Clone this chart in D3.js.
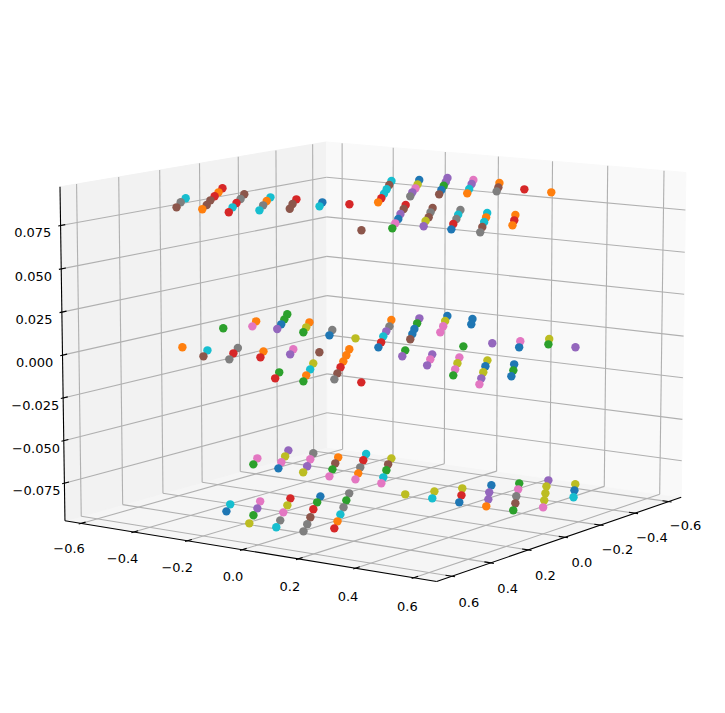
<!DOCTYPE html>
<html><head><meta charset="utf-8"><script src="https://cdn.jsdelivr.net/npm/d3@7"></script>
<style>body{margin:0;background:#fff}text{font-family:"DejaVu Sans";font-size:13px;fill:#000}</style></head>
<body><svg id="chart" width="725" height="713"></svg>
<script>
// Scatter points by series, one list per z level, as [x, y].
const zLevels = {top: 0.085, mid: 0, low: -0.085};
const blueTop = [[.128,-.104],[-.465,-.156],[-.309,.031],[.291,.282],[.377,.523]];
const orangeTop = [[.456,-.304],[.128,-.492],[.200,-.257],[.032,.032],[-.290,.138],[-.549,.087],[-.457,.334],[.115,.470],[.025,.513],[.209,.621]];
const greenTop = [[-.397,-.019],[.457,.375]];
const redTop = [[.207,-.447],[.047,-.538],[.462,-.202],[.288,-.304],[.119,-.206],[.117,-.013],[-.047,-.011],[-.468,.230],[.033,.132],[.284,.468],[.120,.570]];
const purpleTop = [[-.213,-.011],[-.556,-.111],[-.473,-.062],[-.479,.030],[.201,.228],[.372,.425]];
const brownTop = [[.466,-.392],[.374,-.350],[.286,-.403],[.119,-.401],[.296,-.102],[.209,-.155],[.540,.326],[-.313,-.165],[-.222,.081],[-.461,.140],[.108,.176],[.040,.233],[.211,.334],[.287,.569]];
const pinkTop = [[-.295,-.055],[-.562,-.018],[.369,.325]];
const grayTop = [[.372,-.449],[.210,-.347],[.283,-.209],[-.134,.035],[-.380,.186],[.121,.280],[.029,.324],[.194,.419],[.379,.622]];
const oliveTop = [[-.376,-.102],[.279,.369]];
const cyanTop = [[.293,-.491],[.370,-.257],[.376,-.154],[.128,-.296],[.204,-.060],[-.395,-.213],[-.225,-.114],[-.138,-.064],[-.377,.088],[.115,.373],[.037,.423],[.199,.518]];

const blueMid = [[-.140,-.454],[-.063,-.215],[.025,.028],[-.308,-.067],[-.229,-.021],[-.570,-.119],[-.568,-.023],[-.482,.029],[-.220,.373],[.107,.465],[.031,.516],[.199,.614]];
const orangeMid = [[.365,-.453],[-.140,-.551],[-.221,-.404],[.280,-.213],[.528,.123],[.103,-.024],[.192,.028],[.280,.079],[-.405,-.220]];
const greenMid = [[.023,-.557],[-.304,-.550],[-.221,-.501],[-.061,-.312],[.610,.172],[.534,.031],[-.400,-.119],[-.137,.227],[-.315,.417],[.021,.123],[.283,.469],[.115,.567]];
const redMid = [[.359,-.266],[.367,-.160],[.618,.078],[.365,.129],[.527,.316],[-.052,-.015]];
const purpleMid = [[-.063,-.413],[.275,-.118],[-.223,-.114],[-.482,-.166],[-.232,.269],[-.318,.511],[.110,.173],[.031,.227],[.192,.317],[.276,.561]];
const brownMid = [[.451,-.308],[.197,-.067],[.450,.178],[-.147,.027]];
const pinkMid = [[-.058,-.505],[.200,-.161],[-.401,-.022],[-.304,.032],[-.311,.319],[.104,.269],[.027,.321],[.199,.420],[.358,.608]];
const grayMid = [[.278,-.310],[.447,-.215],[-.147,-.264],[.533,.226],[-.304,-.158]];
const oliveMid = [[-.140,-.358],[.358,.026],[-.065,-.119],[-.487,-.072],[-.396,.369],[.113,.371],[.021,.416],[.192,.513]];
const cyanMid = [[.363,-.360],[.443,.076],[-.143,-.070]];

const blueLow = [[-.067,-.414],[.521,-.174],[.191,-.069],[.020,.318],[-.239,.264],[-.323,.509]];
const orangeLow = [[-.313,-.360],[-.149,-.168],[.441,.171],[.020,.414]];
const greenLow = [[-.071,-.514],[-.152,-.268],[-.237,-.123],[.518,-.077],[.265,-.028],[.192,.027],[-.312,.318],[.020,.509]];
const redLow = [[-.321,-.269],[.266,-.126],[.350,.019],[.522,.217],[-.066,.269]];
const purpleLow = [[-.311,-.553],[-.144,-.359],[.435,-.124],[-.150,.314],[-.065,.366],[-.401,.367]];
const brownLow = [[-.232,-.314],[-.315,-.170],[.443,.075],[-.065,.462]];
const pinkLow = [[-.153,-.559],[-.147,-.461],[-.237,-.414],[-.061,-.215],[-.071,-.124],[-.069,-.026],[.352,-.175],[.435,-.029],[-.237,.362],[-.066,.559]];
const grayLow = [[-.319,-.461],[-.227,-.215],[.527,.027],[.524,.122],[.605,.167],[.106,-.023],[.276,.076],[-.150,.411]];
const oliveLow = [[-.229,-.506],[-.063,-.316],[-.397,-.214],[.020,.123],[.611,-.023],[.350,-.076],[-.066,.171],[-.151,.216],[-.323,.409],[-.236,.460],[-.150,.510],[-.399,.465]];
const cyanLow = [[-.407,-.318],[-.145,-.071],[.437,-.223],[.608,.072],[.360,.124],[.020,.221],[-.237,.559]];

const seriesColors = ["#1f77b4","#ff7f0e","#2ca02c","#d62728","#9467bd","#8c564b","#e377c2","#7f7f7f","#bcbd22","#17becf"];
const topSeries = [blueTop,orangeTop,greenTop,redTop,purpleTop,brownTop,pinkTop,grayTop,oliveTop,cyanTop];
const midSeries = [blueMid,orangeMid,greenMid,redMid,purpleMid,brownMid,pinkMid,grayMid,oliveMid,cyanMid];
const lowSeries = [blueLow,orangeLow,greenLow,redLow,purpleLow,brownLow,pinkLow,grayLow,oliveLow,cyanLow];

const horizontalTicks = [-0.6,-0.4,-0.2,0,0.2,0.4,0.6];
const verticalTicks = [-0.075,-0.05,-0.025,0,0.025,0.05,0.075];
const xLim = [-0.65,0.65], yLim = [-0.635,0.65], zLim = [-0.0933,0.0933];

// Perspective camera: elevation 10, azimuth 35, box aspect 4:4:3.
const elev = 10*Math.PI/180, azim = 35*Math.PI/180, camDist = 10, focal = 3745, cx = 377.5, cy = 345.5;
const boxX = 8/7, boxY = 8/7, boxZ = 6/7;
const sx = d3.scaleLinear(xLim,[0,boxX]), sy = d3.scaleLinear(yLim,[0,boxY]), sz = d3.scaleLinear(zLim,[0,boxZ]);
const dot = (a,b) => a[0]*b[0]+a[1]*b[1]+a[2]*b[2];
const n = [Math.cos(elev)*Math.cos(azim),Math.cos(elev)*Math.sin(azim),Math.sin(elev)];
const u = [-Math.sin(azim),Math.cos(azim),0];
const v = [n[1]*u[2]-n[2]*u[1],n[2]*u[0]-n[0]*u[2],n[0]*u[1]-n[1]*u[0]];
const centred = (x,y,z) => [sx(x)-boxX/2,sy(y)-boxY/2,sz(z)-boxZ/2];
const depth = (x,y,z) => dot(n,centred(x,y,z));
function project(x,y,z){
  const p = centred(x,y,z), w = camDist-dot(n,p);
  return [cx+focal*dot(u,p)/w, cy-focal*dot(v,p)/w];
}

const svg = d3.select("#chart");
const path = d3.line();
const pad = lim => (lim[1]-lim[0])/48;
const x0 = xLim[0]-pad(xLim), x1 = xLim[1]+pad(xLim);
const y0 = yLim[0]-pad(yLim), y1 = yLim[1]+pad(yLim);
const z0 = zLim[0]-pad(zLim), z1 = zLim[1]+pad(zLim);

// Panes
const pane = (pts,fill) => svg.append("path").attr("d",path(pts.map(q=>project(...q)))+"Z").attr("fill",fill).attr("stroke",fill);
pane([[x0,y0,z0],[x1,y0,z0],[x1,y1,z0],[x0,y1,z0]],"#f5f5f5");
pane([[x0,y0,z0],[x1,y0,z0],[x1,y0,z1],[x0,y0,z1]],"#f2f2f2");
pane([[x0,y0,z0],[x0,y1,z0],[x0,y1,z1],[x0,y0,z1]],"#f9f9f9");

const seg = (a,b,color) => svg.append("path").attr("d",path([project(...a),project(...b)])).attr("stroke",color).attr("stroke-width",1.1).attr("fill","none");

// Grid
const gridColor = "#b0b0b0";
horizontalTicks.forEach(t => {
  seg([t,y1,z0],[t,y0,z0],gridColor); seg([t,y0,z0],[t,y0,z1],gridColor);
  seg([x1,t,z0],[x0,t,z0],gridColor); seg([x0,t,z0],[x0,t,z1],gridColor);
});
verticalTicks.forEach(t => { seg([x1,y0,t],[x0,y0,t],gridColor); seg([x0,y0,t],[x0,y1,t],gridColor); });

// Axis lines and tick marks
seg([x1,y0,z0],[x1,y1,z0],"#000"); seg([x1,y1,z0],[x0,y1,z0],"#000"); seg([x1,y0,z0],[x1,y0,z1],"#000");
const tickX = (xLim[1]-xLim[0])/12, tickY = (yLim[1]-yLim[0])/12;
horizontalTicks.forEach(t => {
  seg([x1+0.1*tickX,t,z0],[x1-0.2*tickX,t,z0],"#000");
  seg([t,y1+0.1*tickY,z0],[t,y1-0.2*tickY,z0],"#000");
});
verticalTicks.forEach(t => seg([x1+0.1*tickX,y0,t],[x1-0.2*tickX,y0,t],"#000"));

// Tick labels
const label = (p,s) => svg.append("text").attr("x",p[0]).attr("y",p[1]).attr("text-anchor","middle").attr("dominant-baseline","central").text(s.replace("-","\u2212"));
verticalTicks.forEach(t => { const q = project(x1+0.1*tickX,y0,t); label([q[0]-25.5,q[1]+7],t.toFixed(3)); });
horizontalTicks.forEach(t => { const q = project(x1,t,z0); label([q[0]-9.2+4.5*t,q[1]+27+2.5*t],t.toFixed(1)); });
horizontalTicks.forEach(t => { const q = project(t,y1,z0); label([q[0]+17,q[1]+25+1.5*t],t.toFixed(1)); });

// Points, painted back to front
const layers = [[topSeries,zLevels.top],[midSeries,zLevels.mid],[lowSeries,zLevels.low]];
const points = layers.flatMap(([group,z]) => group.flatMap((list,i) => list.map(([x,y]) => ({x,y,z,color:seriesColors[i]}))));
points.sort((a,b) => depth(a.x,a.y,a.z)-depth(b.x,b.y,b.z));
svg.append("g").selectAll("circle").data(points).join("circle")
  .attr("cx",d => project(d.x,d.y,d.z)[0])
  .attr("cy",d => project(d.x,d.y,d.z)[1])
  .attr("r",4.2)
  .attr("fill",d => d.color);
</script></body></html>
